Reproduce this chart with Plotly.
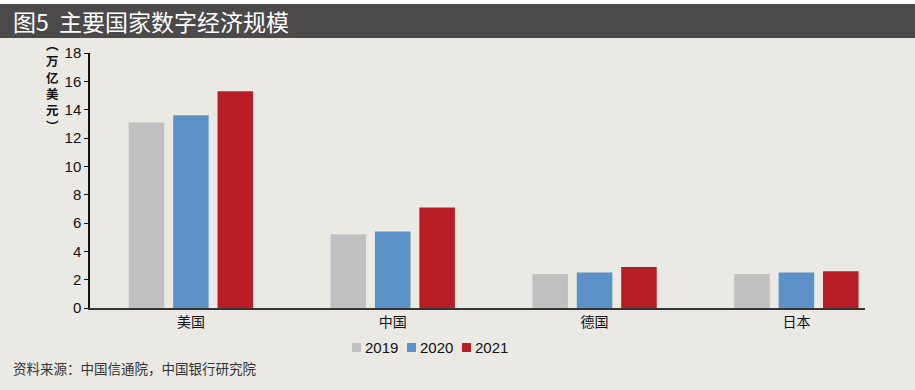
import plotly.graph_objects as go

categories = ["美国", "中国", "德国", "日本"]
years = ["2019", "2020", "2021"]
v2019 = [13.1, 5.2, 2.4, 2.4]
v2020 = [13.6, 5.4, 2.5, 2.5]
v2021 = [15.3, 7.1, 2.9, 2.6]
colors = ["#c0c0c0", "#5b93c9", "#b81c25"]
y_ticks = [0, 2, 4, 6, 8, 10, 12, 14, 16, 18]

BG = "#ebe9e4"
FONT = "Liberation Sans, Noto Sans CJK SC, sans-serif"
CJK = "Noto Sans CJK SC, sans-serif"

fig = go.Figure()
for name, vals, c in zip(years, [v2019, v2020, v2021], colors):
    fig.add_trace(go.Bar(x=categories, y=vals, name=name, marker_color=c,
                         marker_line_width=0, showlegend=False))

fig.update_layout(
    width=915, height=390,
    paper_bgcolor=BG, plot_bgcolor=BG,
    margin=dict(l=90, r=50, t=53, b=82),
    barmode="group", bargap=0.34, bargroupgap=0.2,
    font=dict(family=FONT, color="#111"),
    xaxis=dict(type="category", range=[-0.5, 3.34], showgrid=False,
               showline=True, linecolor="#333", linewidth=1.5, ticks="",
               tickfont=dict(family=CJK, size=14, color="#111"), zeroline=False),
    yaxis=dict(range=[0, 18], tickvals=y_ticks, showgrid=False, zeroline=False,
               showline=True, linecolor="#111", linewidth=1.5,
               ticks="outside", ticklen=4, tickwidth=1.2, tickcolor="#111",
               tickfont=dict(family=FONT, size=15, color="#111")),
)


def py(pix):
    return (390 - 82 - pix) / 255.0


def px(pix):
    return (pix - 90) / 775.0


fig.add_shape(type="rect", xref="paper", yref="paper", x0=px(-5), x1=px(920),
              y0=py(38), y1=py(4), fillcolor="#4b4949", line_width=0, layer="below")
fig.add_shape(type="rect", xref="paper", yref="paper", x0=px(-5), x1=px(920),
              y0=py(4), y1=py(-5), fillcolor="#ffffff", line_width=0, layer="below")

fig.add_annotation(text="图5  主要国家数字经济规模", xref="paper", yref="paper",
                   x=px(11), y=py(21), xanchor="left", yanchor="middle",
                   showarrow=False, font=dict(family=CJK, size=23, color="#ffffff"))

fig.add_annotation(text="<b>︵<br>万<br>亿<br>美<br>元<br>︶</b>", xref="paper", yref="paper",
                   x=px(52), y=py(85), xanchor="center", yanchor="middle",
                   showarrow=False, align="center",
                   font=dict(family=CJK, size=12.5, color="#111"))

# manual legend
lx = [352, 407, 462]
for name, c, x0 in zip(years, colors, lx):
    fig.add_shape(type="rect", xref="paper", yref="paper",
                  x0=px(x0), x1=px(x0 + 9), y0=py(352), y1=py(343),
                  fillcolor=c, line_width=0)
    fig.add_annotation(text=name, xref="paper", yref="paper",
                       x=px(x0 + 11), y=py(348), xanchor="left", yanchor="middle",
                       showarrow=False, font=dict(family=FONT, size=15, color="#111"))

fig.add_annotation(text="资料来源：中国信通院，中国银行研究院", xref="paper", yref="paper",
                   x=px(11), y=py(368), xanchor="left", yanchor="middle",
                   showarrow=False, font=dict(family=CJK, size=13.5, color="#333"))

fig.write_html("out.html", config={"displayModeBar": False},
               post_script="document.body.style.margin='0';document.body.style.padding='0';")
